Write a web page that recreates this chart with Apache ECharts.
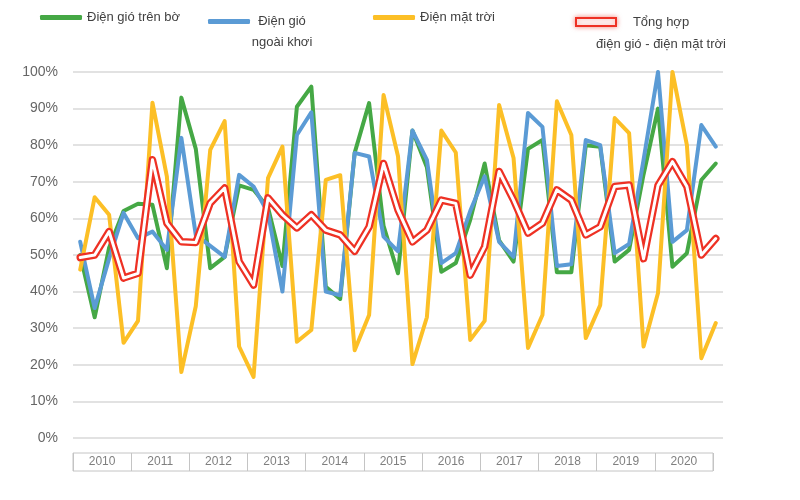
<!DOCTYPE html>
<html><head><meta charset="utf-8">
<script src="https://cdn.jsdelivr.net/npm/echarts@6/dist/echarts.min.js"></script>
<style>html,body{margin:0;padding:0;background:#fff}#c{width:800px;height:500px}</style>
</head><body><div id="c"></div>
<script>
const quarters = [
  '2010 Q1','2010 Q2','2010 Q3','2010 Q4','2011 Q1','2011 Q2','2011 Q3','2011 Q4',
  '2012 Q1','2012 Q2','2012 Q3','2012 Q4','2013 Q1','2013 Q2','2013 Q3','2013 Q4',
  '2014 Q1','2014 Q2','2014 Q3','2014 Q4','2015 Q1','2015 Q2','2015 Q3','2015 Q4',
  '2016 Q1','2016 Q2','2016 Q3','2016 Q4','2017 Q1','2017 Q2','2017 Q3','2017 Q4',
  '2018 Q1','2018 Q2','2018 Q3','2018 Q4','2019 Q1','2019 Q2','2019 Q3','2019 Q4',
  '2020 Q1','2020 Q2','2020 Q3','2020 Q4','2021 Q1'
];
const years = ['2010','2011','2012','2013','2014','2015','2016','2017','2018','2019','2020'];
const yTicks = [0,10,20,30,40,50,60,70,80,90,100];

const onshoreWind = [50,33,52,62,64,63.7,46.4,93,79,46.4,49.5,69,67.8,63,47,90.5,96,41.3,38,77.9,91.5,58,45,84,74,45.4,47.8,59.6,75,54,48.2,79,81.4,45.3,45.3,80,79.6,48.2,51.4,72,90,46.8,50.5,70.5,75];
const offshoreWind = [53.6,35.5,49,61.5,54.6,56.4,51.4,82,55.5,52.5,49.5,71.9,68.7,61.5,40,82.8,89,40,39,77.9,76.9,55,51,84,76,47.8,50.5,62,71.5,53.6,49.5,88.8,85,47,47.5,81.4,80,50.5,53,76,100,53.6,56.8,85.5,79.6];
const solar = [46,65.8,61,26,32,91.6,71.4,18,36,78.7,86.6,25,16.7,71,79.6,26.3,29.5,70.5,71.8,24,33.6,93.7,77,20.2,33,84,78,26.8,32,91,76.5,24.6,33.6,92,82.8,27.3,36.3,87.4,83.3,25,39.6,100,80,21.8,31.4];
const combined = [49.3,50,56.4,43.7,45,76,58.7,53.6,53.4,64.2,68.3,48.2,41.8,65.6,61,57.4,61,56.8,55.5,51,57.7,75,62.3,53.6,56.8,65,64.1,44.5,52.3,72.8,65,56,58.7,67.8,65,55.5,57.7,68.7,69.1,49,69,75.5,68.7,50,54.5];

const N1 = 'Điện gió trên bờ';
const N2 = 'Điện gió ngoài khơi';
const N3 = 'Điện mặt trời';
const N4 = 'Tổng hợp điện gió - điện mặt trời';
const GREEN = '#45a845', BLUE = '#5b9bd5', YELLOW = '#fcbf26', RED = '#ee3124';
const FONT = 'Liberation Sans';

const chart = echarts.init(document.getElementById('c'));
const lineSeries = (name, data, color, width, z) => ({
  name, type: 'line', data, symbol: 'none', z,
  itemStyle: { color },
  lineStyle: { color, width, cap: 'round', join: 'round' },
  emphasis: { disabled: true }, animation: false
});
const baseLegend = {
  padding: 0, selectedMode: false, itemGap: 6,
  textStyle: { fontFamily: FONT, fontSize: 13, color: '#404040' }
};
chart.setOption({
  animation: false,
  textStyle: { fontFamily: FONT },
  legend: [
    Object.assign({}, baseLegend, { left: 40, top: 11, itemWidth: 42, itemHeight: 5, icon: 'roundRect', data: [N1] }),
    Object.assign({}, baseLegend, { left: 208, top: -10, itemWidth: 42, itemHeight: 5, icon: 'roundRect', data: [N2],
      formatter: () => '\n{a|Điện gió}\n{a|ngoài khơi}',
      textStyle: { fontFamily: FONT, fontSize: 13, color: '#404040', lineHeight: 21,
        rich: { a: { width: 54, align: 'center', fontFamily: FONT, fontSize: 13, color: '#404040', lineHeight: 21 } } } }),
    Object.assign({}, baseLegend, { left: 373, top: 11, itemWidth: 42, itemHeight: 5, icon: 'roundRect', data: [N3] }),
    Object.assign({}, baseLegend, { left: 575, top: -11, itemWidth: 40, itemHeight: 8, itemGap: 6,
      data: [{ name: N4, icon: 'rect', itemStyle: { color: '#ffffff', borderColor: RED, borderWidth: 2, shadowBlur: 5, shadowColor: 'rgba(238,49,36,0.5)' } }],
      formatter: () => '\n{a|Tổng hợp}\n{a|điện gió - điện mặt trời}',
      textStyle: { fontFamily: FONT, fontSize: 13, color: '#404040', lineHeight: 22,
        rich: { a: { width: 80, align: 'center', fontFamily: FONT, fontSize: 13, color: '#404040', lineHeight: 22 } } } })
  ],
  grid: [
    { left: 73, top: 72, width: 650, height: 366 },
    { left: 73, top: 453, width: 640, height: 18, show: true, borderColor: '#c4c4c4', borderWidth: 1 }
  ],
  xAxis: [
    { type: 'category', gridIndex: 0, data: quarters, boundaryGap: true,
      axisLine: { show: false }, axisTick: { show: false }, axisLabel: { show: false } },
    { type: 'category', gridIndex: 1, data: years, boundaryGap: true,
      axisLine: { show: false }, axisTick: { show: false },
      splitLine: { show: true, interval: 0, lineStyle: { color: '#c4c4c4', width: 1 } },
      axisLabel: { inside: true, margin: 3, interval: 0, color: '#7f7f7f', fontSize: 12, fontFamily: FONT } }
  ],
  yAxis: [
    { type: 'value', gridIndex: 0, min: yTicks[0], max: yTicks[yTicks.length - 1], interval: 10,
      axisLine: { show: false }, axisTick: { show: false },
      axisLabel: { formatter: '{value}%', color: '#666666', fontSize: 14, margin: 15, fontFamily: FONT },
      splitLine: { lineStyle: { color: '#d9d9d9', width: 1.5 } } },
    { type: 'value', gridIndex: 1, show: false, min: 0, max: 1 }
  ],
  series: [
    lineSeries(N1, onshoreWind, GREEN, 4, 2),
    lineSeries(N2, offshoreWind, BLUE, 4, 3),
    lineSeries(N3, solar, YELLOW, 4, 4),
    lineSeries(N4, combined, RED, 7.5, 5),
    Object.assign(lineSeries(N4, combined, '#ffffff', 3, 6), { itemStyle: { color: RED } })
  ]
});
</script></body></html>
